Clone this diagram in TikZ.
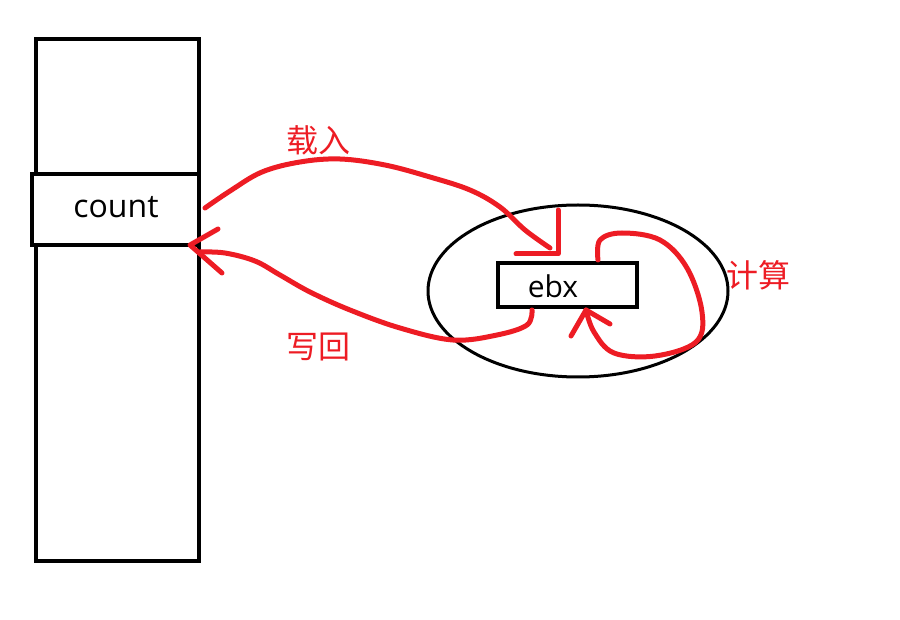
\documentclass[tikz,border=0pt]{standalone}
\usepackage{fontspec}
\setmainfont{Open Sans}
\newfontfamily\cjk{Noto Sans CJK SC}
\definecolor{pred}{RGB}{237,28,36}
\tikzset{
  blk/.style={draw=black,line width=4pt},
  pen/.style={draw=pred,line width=5pt,line cap=round,line join=round},
  zh/.style={text=pred,font=\cjk\fontsize{32}{34}\selectfont,inner sep=0pt},
  lbl/.style={font=\fontsize{32}{34}\selectfont,inner sep=0pt}
}
\begin{document}
\begin{tikzpicture}[x=1pt,y=-1pt]
\useasboundingbox (0,0) rectangle (900,620);
% memory column
\node[blk,minimum width=163pt,minimum height=522pt,inner sep=0pt,anchor=north west] (mem) at (34,37) {};
\node[blk,minimum width=167pt,minimum height=71pt,inner sep=0pt,anchor=north west,fill=white] (cnt) at (30,172) {};
\node[lbl] (cnttxt) at (116,207) {count};
% register ellipse
\draw[line width=3pt] (578,291) ellipse [x radius=150pt, y radius=86pt];
\coordinate (ell) at (578,291);
\node[blk,minimum width=139pt,minimum height=44pt,inner sep=0pt,anchor=north west] (ebx) at (496,261) {};
\node[lbl,font=\fontsize{30}{32}\selectfont] (ebxtxt) at (553,286) {ebx};
% labels
\node[zh] (load) at (318,140) {载入};
\node[zh] (wb) at (318,347) {写回};
\node[zh] (calc) at (758,275) {计算};
% load curve
\coordinate (l0) at (205,208);
\coordinate (l1) at (550,248);
\draw[pen] plot[smooth,tension=0.6] coordinates {(l0) (230,191) (262,172) (300,162) (340,159) (385,165) (430,177) (470,190) (500,207) (525,230) (l1)};
\coordinate (la) at (558,210);
\coordinate (lt) at (558,254);
\coordinate (lb) at (516,254);
\draw[pen] (la) -- (lt) -- (lb);
% write-back curve
\coordinate (w0) at (532,310);
\coordinate (w1) at (200,252);
\draw[pen] plot[smooth,tension=0.6] coordinates {(w0) (527,325) (497,335) (453,340) (400,328) (350,310) (310,292) (280,275) (255,261) (225,253) (w1)};
\coordinate (wa) at (218,229);
\coordinate (wt) at (190,245);
\coordinate (wb2) at (222,273);
\draw[pen] (wa) -- (wt) -- (wb2);
% compute loop
\coordinate (c0) at (598,260);
\coordinate (c1) at (586,310);
\draw[pen] plot[smooth,tension=0.6] coordinates {(c0) (600,240) (622,233) (660,240) (687,268) (702,312) (696,342) (655,356) (614,353) (594,332) (c1)};
\coordinate (ca) at (571,336);
\coordinate (cb) at (610,324);
\draw[pen] (ca) -- (c1) -- (cb);
\end{tikzpicture}
\end{document}
